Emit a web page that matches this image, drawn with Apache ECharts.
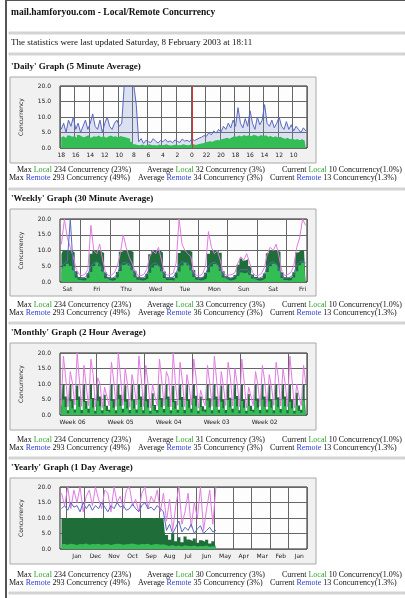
<!DOCTYPE html>
<html><head><meta charset="utf-8">
<script src="https://cdn.jsdelivr.net/npm/echarts@6/dist/echarts.min.js"></script>
<style>html,body{margin:0;padding:0;background:#fff;}#c{width:405px;height:598px;}</style>
</head><body><div id="c"></div>
<script>
// ---------------- DATA ----------------
const yTicks = ['0.0','5.0','10.0','15.0','20.0'];

const dailyLabels = ['18','16','14','12','10','8','6','4','2','0','22','20','18','16','14','12','10'];
const dailyLocal = [
3.5,3.8,3.2,4.0,3.6,3.9,3.3,4.2,3.7,3.5,3.9,4.1,3.4,3.8,3.6,4.0,3.5,3.9,3.3,3.7,4.0,3.6,3.8,3.4,3.9,3.6,
3.5,3.2,3.0,2.0,1.2,1.0,
0.9,1.1,0.8,1.0,1.2,0.9,1.0,0.8,1.1,0.9,1.0,1.2,0.9,0.8,1.0,1.1,0.9,1.0,1.2,1.0,0.9,1.1,1.3,1.0,1.2,1.4,
1.5,1.8,2.0,2.2,2.0,2.4,2.6,2.5,2.9,3.1,3.3,3.0,3.5,3.8,3.6,4.0,3.7,4.2,3.9,4.1,3.8,4.3,4.0,3.7,4.2,3.9,4.1,3.6,3.9,3.5,3.8,3.4,3.6,3.2,3.0,3.3,2.8,3.1,2.7,2.9,2.5,2.8,2.4,2.6];
const dailyRemote = [
6,8,5,9,7,10,6,8,5,7,9,6,8,11,7,6,9,5,8,10,7,6,8,9,7,8,
20,20,20,20,20,14,
2,3,1.5,2.5,2,1.8,3,2.2,1.6,2.4,2,2.8,1.9,2.3,1.7,2.6,2.1,1.8,2.9,2.2,2.5,2,3,2.4,2.8,3.2,
3.5,4,3.8,5,4.2,5.5,4.8,6,5.2,7,6,8,6.5,9,7,13,8,6.5,9.5,7,12,8,6,10,7.5,9,14,8,7,9,6.5,8,10,7,6,8.5,6,7.5,5.5,7,6,5,6.5,5.5];

const weeklyLabels = ['Sat','Fri','Thu','Wed','Tue','Mon','Sun','Sat','Fri'];
const weeklyLocalMax = [
9,10,10,10,9.4,3.4,1.6,
1.4,1.2,2.8,9,10,10,9.8,9.2,3,1.5,
1.3,1.5,3.2,9.6,10,10,10,9.5,3.6,1.7,
1.2,1.4,2.6,8.8,10,10,10,9.4,3.3,1.5,
1.5,1.3,3,9.2,10,10,9.9,9.6,3.8,1.6,
1.4,1.6,2.9,9,10,10,10,9.3,3.4,1.8,
1.3,1.5,2.2,5.5,7.5,6.8,7.2,5,2.4,1.6,
1.2,1.4,2.7,9.1,10,10,10,9.5,3.1,1.5,
1.3,1.6,3.1,9.4,10,10,10];
const weeklyLocalAvg = [
3.2,5,5.8,5.1,3.7,1.4,0.7,
0.5,0.6,1.3,3.2,5.1,6.2,5.0,3.3,1.2,0.6,
0.4,0.7,1.4,3.5,5.4,5.9,5.2,3.8,1.5,0.7,
0.5,0.6,1.1,2.9,4.6,5.3,4.8,3.4,1.3,0.6,
0.6,0.5,1.3,3.3,5.2,6.0,5.3,3.7,1.6,0.7,
0.5,0.7,1.2,3.1,4.9,5.7,5.1,3.5,1.4,0.8,
0.5,0.6,1.0,2.0,3.0,2.8,3.1,2.2,1.1,0.6,
0.4,0.6,1.2,3.2,5.0,5.8,5.2,3.6,1.3,0.6,
0.5,0.7,1.4,3.4,5.3,6.1,5.5];
const weeklyRemoteMax = [
12,20,14,11,8,4,2.5,
2,2.5,4,18,10,9,12,7,3,2,
2.2,3,5,9,15,11,8,6,3.5,2,
2,2.4,4,8,10,9,11,7,3,2.2,
2.3,2.8,6,20,12,10,9,8,3.2,2,
2,2.6,5,16,11,9,10,7,3,2.1,
2.2,2.4,3,6,8,7,9,6,3,2,
2.1,2.7,4.5,9,11,10,12,8,3.3,2,
2.4,3,5,11,14,20,18];
const weeklyRemoteAvg = [
5,6,6.5,20,4.5,2.1,1.3,
1.2,1.4,2.5,5,6,6.5,5.5,4,2,1.3,
1.1,1.5,2.6,5.2,6.2,6,5.8,4.2,2.2,1.2,
1.3,1.4,2.4,4.8,5.7,6.1,5.3,3.9,2,1.2,
1.2,1.6,2.8,5.5,6.4,6.2,5.9,4.3,2.3,1.3,
1.1,1.5,2.5,5,6,6.3,5.6,4,2.1,1.2,
1.2,1.3,1.8,3,4,3.8,4.1,3,1.7,1.1,
1.1,1.5,2.4,5.1,6,6.4,5.7,4.1,2,1.2,
1.3,1.6,2.7,5.4,6.3,6.6,6];

const monthlyLabels = ['Week 06','Week 05','Week 04','Week 03','Week 02'];
const monthlyLocalMax = [
2,10,6, 1.5,10,5, 1.8,9.5,6, 1.6,10,4.5, 2,10,5.5, 1.4,9.8,6, 1.5,6.5,3,
1.7,10,5, 1.5,10,6.5, 2,9.6,5, 1.6,10,4.8, 1.8,10,6, 1.5,9.7,5.2, 1.4,7,3.2,
1.6,10,5.5, 1.9,10,6, 1.5,9.4,4.6, 1.7,10,5.8, 1.6,10,5, 2,9.9,6.2, 1.4,6,2.8,
1.8,10,5.4, 1.5,10,6, 1.7,9.5,4.9, 1.6,10,5.6, 2,10,6.1, 1.5,9.8,5, 1.4,6.8,3,
1.7,10,5.3, 1.6,10,6, 1.8,9.6,5.1, 1.5,10,5.7, 1.9,10,6, 1.6,9.7,4.8, 1.4,7.2,3.1,
1.7,10,5.5];
const monthlyLocalAvg = [
0.7,5,2.6, 0.6,4.4,2.2, 0.8,4.8,2.7, 0.6,4.2,2, 0.7,5.2,2.4, 0.5,4.6,2.8, 0.6,2.8,1.3,
0.7,4.5,2.3, 0.6,5.1,2.9, 0.8,4.3,2.1, 0.6,4.7,2.2, 0.7,5,2.6, 0.6,4.4,2.4, 0.5,3,1.4,
0.7,4.9,2.5, 0.8,5.1,2.7, 0.6,4.1,2, 0.7,4.8,2.6, 0.6,4.6,2.3, 0.8,5.3,2.8, 0.5,2.6,1.2,
0.7,4.7,2.4, 0.6,5,2.7, 0.7,4.3,2.2, 0.6,4.8,2.5, 0.8,5.2,2.8, 0.6,4.5,2.3, 0.5,2.9,1.3,
0.7,4.6,2.4, 0.6,5,2.7, 0.8,4.4,2.3, 0.6,4.9,2.5, 0.7,5.1,2.8, 0.6,4.3,2.1, 0.5,3.1,1.4,
0.7,4.7,2.5];
const monthlyRemoteMax = [
3,19,12, 2.5,14,10, 3.2,20,11, 2.8,16,9, 3,18,13, 2.6,12,10, 2.4,9,6,
3,17,11, 2.7,20,12, 3.1,15,10, 2.5,13,9, 3.3,19,12, 2.8,16,10, 2.3,10,6,
3,18,11, 2.9,14,12, 2.6,20,10, 3.1,17,11, 2.7,13,9, 3.2,18,12, 2.2,8,5,
3,16,10, 2.8,19,11, 2.6,14,9, 3,17,12, 2.9,15,10, 2.7,18,11, 2.3,9,6,
3,14,10, 2.8,16,11, 2.6,13,9, 3.1,17,12, 2.9,15,10, 2.7,19,11, 2.3,10,6,
3,16,10];

const yearlyLabels = ['Jan','Dec','Nov','Oct','Sep','Aug','Jul','Jun','May','Apr','Mar','Feb','Jan'];
const yearlyLocalMax = [
10,10,9.8,10,10,9.9,10,10,10,9.7,10,10,9.9,10,10,10,9.8,10,10,9.9,10,10,10,9.8,10,10,9.9,10,10,10,9.8,10,9.9,10,
4.5,3,5,2.5,3.8,2.2,4,3.1,2.6,3.4,2,2.8,2.3,3,1.8,2.5,2];
const yearlyLocalAvg = [
1.5,1.6,1.4,1.7,1.5,1.3,1.6,1.5,1.8,1.4,1.6,1.5,1.7,1.4,1.5,1.6,1.3,1.5,1.7,1.6,1.4,1.5,1.6,1.8,1.5,1.4,1.6,1.5,1.7,1.3,1.5,1.6,1.4,1.5,
1.2,1,1.3,0.9,1.1,0.8,1.2,1,0.9,1.1,0.8,1,0.9,1.1,0.7,0.9,0.8];
const yearlyRemoteMax = [
18,14,20,13,19,15,20,12,17,19,14,20,16,13,19,18,12,20,15,17,13,19,20,14,16,12,18,20,13,17,15,19,12,18,
9,16,6,14,20,8,12,18,7,15,10,20,6,13,19,8,20];
const yearlyRemoteAvg = [
13,14,12.5,15,13.5,14,12,15,13,14.5,12.5,14,13,15,13.5,12,14,13,15,13.5,14,12.5,13,14.5,13,12,14,15,13,13.5,12.5,14,13,12,
6,8,5,7,9,5.5,7,6,8,5,6.5,7.5,5,6,7,5.5,6];

const sectionTitles = ["'Daily' Graph (5 Minute Average)","'Weekly' Graph (30 Minute Average)","'Monthly' Graph (2 Hour Average)","'Yearly' Graph (1 Day Average)"];
const legendLocal = [
 ['234 Concurrency (23%)','32 Concurrency (3%)','10 Concurrency(1.0%)'],
 ['234 Concurrency (23%)','33 Concurrency (3%)','10 Concurrency(1.0%)'],
 ['234 Concurrency (23%)','31 Concurrency (3%)','10 Concurrency(1.0%)'],
 ['234 Concurrency (23%)','30 Concurrency (3%)','10 Concurrency(1.0%)']];
const legendRemote = [
 ['293 Concurrency (49%)','34 Concurrency (3%)','13 Concurrency(1.3%)'],
 ['293 Concurrency (49%)','36 Concurrency (3%)','13 Concurrency(1.3%)'],
 ['293 Concurrency (49%)','35 Concurrency (3%)','13 Concurrency(1.3%)'],
 ['293 Concurrency (49%)','35 Concurrency (3%)','13 Concurrency(1.3%)']];

// ---------------- LAYOUT ----------------
const chart = echarts.init(document.getElementById('c'), null, {width:405, height:598});
const PL = 60, PW = 247, BX = 10, BW = 306;
const L = [
 {title:67, box:[77,163], plot:[86,148], leg:[170,178], hr:188},
 {title:199, box:[209,296], plot:[219,282], leg:[305,313], hr:322},
 {title:333, box:[343,430], plot:[353,415], leg:[440,448], hr:457},
 {title:468, box:[478,564], plot:[487,549], leg:[575,583], hr:592}
];
const C = {dark:'#1f6e3a', bright:'#35bd55', mag:'#e07ce0', blue:'#5a68c0', grid:'#666', lab:'#222'};
const SERIF = '"Liberation Serif","DejaVu Serif",serif';

const grids = [], xAxes = [], yAxes = [], series = [];
const axisCfg = [
 {n:102, step:6, off:0, labels:dailyLabels, split:(i)=>i%6===0},
 {n:84, step:10, off:2, labels:weeklyLabels, split:(i)=>i%10===7},
 {n:108, step:21, off:5, labels:monthlyLabels, split:(i)=>i%21===16},
 {n:80, step:6, off:5, labels:yearlyLabels, split:(i)=>i%6===2}
];
L.forEach((s, gi) => {
  grids.push({left:PL, width:PW, top:s.plot[0], height:s.plot[1]-s.plot[0], show:true, borderColor:'#222', borderWidth:1, backgroundColor:'transparent'});
  const a = axisCfg[gi];
  xAxes.push({type:'category', gridIndex:gi, boundaryGap:true, data:Array.from({length:a.n},(_,i)=>String(i)),
    axisLine:{show:false}, axisTick:{show:false},
    axisLabel:{interval:(i)=> i>=a.off && (i-a.off)%a.step===0 && (i-a.off)/a.step < a.labels.length,
      formatter:(v)=> a.labels[(Number(v)-a.off)/a.step] || '', fontSize:6, color:C.lab, margin:4, fontFamily:'DejaVu Sans'},
    splitLine:{show:true, interval:a.split, lineStyle:{color:C.grid, width:1}}});
  yAxes.push({type:'value', gridIndex:gi, min:0, max:20, interval:5, axisLine:{show:false}, axisTick:{show:false},
    axisLabel:{formatter:(v)=>yTicks[Math.round(v/5)], fontSize:6, color:C.lab, margin:9, fontFamily:'DejaVu Sans'},
    splitLine:{lineStyle:{color:C.grid, width:1}},
    name:'Concurrency', nameLocation:'middle', nameRotate:90, nameGap:36, nameTextStyle:{fontSize:6, color:C.lab, fontFamily:'DejaVu Sans'}});
});
const area = (gi, data, color, extra) => Object.assign({type:'line', xAxisIndex:gi, yAxisIndex:gi, data, step:'middle', symbol:'none', lineStyle:{width:0}, areaStyle:{color, opacity:1}, silent:true}, extra||{});
const line = (gi, data, color, extra) => Object.assign({type:'line', xAxisIndex:gi, yAxisIndex:gi, data, symbol:'none', lineStyle:{color, width:1}, silent:true}, extra||{});

// daily
series.push(line(0, dailyRemote, C.blue, {areaStyle:{color:'rgba(120,138,205,0.35)'}}));
series.push(area(0, dailyLocal, C.bright, {markLine:{symbol:'none', silent:true, label:{show:false}, lineStyle:{color:'#e03030', type:'solid', width:1}, data:[{xAxis:54}]}}));
// weekly
series.push(line(1, weeklyRemoteMax, C.mag));
series.push(line(1, weeklyRemoteAvg, C.blue));
series.push(area(1, weeklyLocalMax, C.dark));
series.push(area(1, weeklyLocalAvg, C.bright));
// monthly
series.push(line(2, monthlyRemoteMax, C.mag));
series.push(area(2, monthlyLocalMax, C.dark));
series.push(area(2, monthlyLocalAvg, C.bright));
// yearly
series.push(line(3, yearlyRemoteMax, C.mag));
series.push(line(3, yearlyRemoteAvg, C.blue));
series.push(area(3, yearlyLocalMax, C.dark));
series.push(area(3, yearlyLocalAvg, C.bright));

// ---------------- PAGE GRAPHICS ----------------
const g = [];
g.push({type:'rect', z:-20, shape:{x:5,y:0,width:2,height:598}, style:{fill:'#555'}});
g.push({type:'rect', z:-20, shape:{x:5,y:0,width:400,height:1}, style:{fill:'#555'}});
const hr = (y) => g.push({type:'rect', z:-20, shape:{x:9,y:y,width:396,height:2}, style:{fill:'#e2e2e2', stroke:'#b5b5b5', lineWidth:0.6}});
g.push({type:'text', x:11, y:13, style:{text:'mail.hamforyou.com - Local/Remote Concurrency', font:'bold 9.5px '+SERIF, fill:'#111', verticalAlign:'middle'}});
hr(32);
g.push({type:'text', x:11, y:43, style:{text:'The statistics were last updated Saturday, 8 February 2003 at 18:11', font:'9px '+SERIF, fill:'#111', verticalAlign:'middle'}});
hr(53);
L.forEach((s, i) => {
  g.push({type:'text', x:11, y:s.title, style:{text:sectionTitles[i], font:'bold 9px '+SERIF, fill:'#111', verticalAlign:'middle'}});
  g.push({type:'rect', z:-10, shape:{x:BX, y:s.box[0], width:BW, height:s.box[1]-s.box[0]}, style:{fill:'#f1f1f1', stroke:'#a8a8a8', lineWidth:1}});
  g.push({type:'rect', z:-9, shape:{x:PL, y:s.plot[0], width:PW, height:s.plot[1]-s.plot[0]}, style:{fill:'#fdfdfd'}});
  const rich = {l:{fill:'#2ea02e', font:'8px '+SERIF}, r:{fill:'#3040d0', font:'8px '+SERIF}};
  const cells1 = [17,147,282], cells2 = [9,138,270], words = ['Max','Average','Current'];
  for (let k=0;k<3;k++){
    g.push({type:'text', x:cells1[k], y:s.leg[0], style:{text:words[k]+' {l|Local} '+legendLocal[i][k], rich, font:'8px '+SERIF, fill:'#111', verticalAlign:'middle'}});
    g.push({type:'text', x:cells2[k], y:s.leg[1], style:{text:words[k]+' {r|Remote} '+legendRemote[i][k], rich, font:'8px '+SERIF, fill:'#111', verticalAlign:'middle'}});
  }
  hr(s.hr);
});

chart.setOption({animation:false, backgroundColor:'#fff', grid:grids, xAxis:xAxes, yAxis:yAxes, series, graphic:{elements:g}});
</script></body></html>
